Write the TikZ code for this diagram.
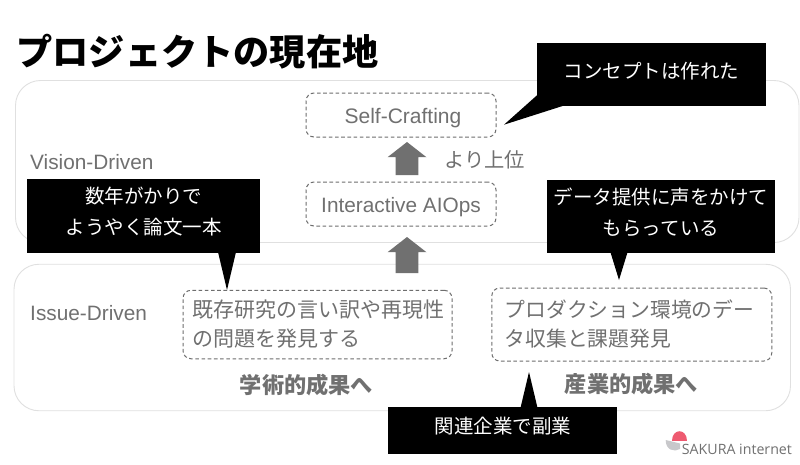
\documentclass[tikz,border=0pt]{standalone}
\usepackage{fontspec}
\setmainfont{Liberation Sans}
\newfontfamily\cjk{Noto Sans CJK JP}
\newfontfamily\logofont{Open Sans}
\usepackage{tikz}
\usetikzlibrary{arrows.meta, positioning, calc, shapes.arrows}
\usepackage{xcolor}
\definecolor{muted}{RGB}{112,112,112}
\definecolor{panelline}{RGB}{224,224,224}
\definecolor{dashline}{RGB}{110,110,110}
\definecolor{sakura}{RGB}{238,90,112}
\definecolor{logogray}{RGB}{200,200,203}
\newcommand{\calltext}[2][-2pt]{\raisebox{#1}[0pt][0pt]{\begin{tabular}{@{}c@{}}#2\end{tabular}}}
\tikzset{
  panel/.style={draw=panelline, line width=0.9pt, rounded corners=25pt, inner sep=0pt},
  goalbox/.style={draw=dashline, line width=1pt, dash pattern=on 3.6pt off 2.6pt, rounded corners=8pt, inner sep=0pt, text=muted},
  blackbox/.style={fill=black, text=white, inner sep=0pt, font=\cjk\fontsize{19.5}{31}\selectfont},
  upshape/.style={single arrow, fill=muted, rotate=90, anchor=tip, inner sep=10pt, minimum width=39pt, single arrow tip angle=104, single arrow head indent=0pt, outer sep=0pt}
}

\begin{document}
\begin{tikzpicture}[x=1pt, y=-1pt]
  \useasboundingbox (0,0) rectangle (800,464);
  \fill[white] (0,0) rectangle (800,464);
  \node[anchor=west, font=\cjk\bfseries\fontsize{36.2}{40}\selectfont] (title) at (13,52) {プロジェクトの現在地};
  % panels
  \node[panel, minimum width=783.5pt, minimum height=162pt] (vision) at (407.25,161.5) {};
  \node[panel, minimum width=776.5pt, minimum height=146.5pt] (issue) at (402.25,337.5) {};
  \node[anchor=west, text=muted, font=\fontsize{20.8}{24}\selectfont] (visionlabel) at (26.7,162.5) {Vision-Driven};
  \node[anchor=west, text=muted, font=\fontsize{20.8}{24}\selectfont] (issuelabel) at (26.7,313.5) {Issue-Driven};
  % goals
  \node[goalbox, minimum width=190pt, minimum height=44pt, text height=20.5pt, text depth=4.5pt, font=\fontsize{21}{25}\selectfont] (selfcraft) at (401,115) {\hspace*{4pt}Self-Crafting};
  \node[goalbox, minimum width=190pt, minimum height=44pt, text height=20.5pt, text depth=4.5pt, font=\fontsize{20.8}{25}\selectfont] (aiops) at (401,204) {Interactive AIOps};
  \node[goalbox, minimum width=269pt, minimum height=68.5pt, inner xsep=9pt, text width=251pt, align=left, font=\cjk\fontsize{21}{29}\selectfont] (research) at (317.5,324.5) {既存研究の言い訳や再現性\\の問題を発見する};
  \node[goalbox, minimum width=280pt, minimum height=73pt, inner xsep=13pt, text width=254pt, align=left, font=\cjk\fontsize{20.8}{29}\selectfont] (production) at (631.75,324.5) {プロダクション環境のデー\\タ収集と課題発見};
  \node[text=muted, font=\cjk\bfseries\fontsize{22.2}{24}\selectfont] (academic) at (306.5,385.5) {学術的成果へ};
  \node[text=muted, font=\cjk\bfseries\fontsize{22.2}{24}\selectfont] (industry) at (631.5,384.5) {産業的成果へ};
  % arrows
  \node[upshape, minimum height=33pt] (uptop) at (407,142) {};
  \node[upshape, minimum height=36pt] (uplow) at (407,237) {};
  \node[anchor=west, text=muted, font=\cjk\fontsize{20.3}{24}\selectfont] (higher) at (440.7,160) {より上位};
  % callouts
  \fill (537.3,95) -- (504,124.7) -- (565.7,105) -- cycle;
  \fill (218,252) -- (227,290) -- (236,252) -- cycle;
  \fill (610.7,253) -- (619,280) -- (627.3,253) -- cycle;
  \fill (520.7,407) -- (529,372) -- (537.3,407) -- cycle;
  \node[blackbox, minimum width=228.7pt, minimum height=63.3pt] (concept) at (651.6,74.4) {\calltext[-3pt]{コンセプトは作れた}};
  \node[blackbox, minimum width=233pt, minimum height=73.4pt] (paper) at (143.5,216) {\calltext{数年がかりで\\ようやく論文一本}};
  \node[blackbox, minimum width=228.6pt, minimum height=73pt] (data) at (661,216.8) {\calltext{データ提供に声をかけて\\もらっている}};
  \node[blackbox, minimum width=229pt, minimum height=47.3pt] (sidejob) at (502.8,430.4) {\calltext{関連企業で副業}};
  % logo
  \fill[sakura] (671.7,441) .. controls (671.7,427.5) and (686.7,427.5) .. (686.7,441) -- cycle;
  \fill[logogray] (665.7,440) -- (680,443.5) -- (680,449) .. controls (674,452.5) and (665.7,450) .. (665.7,440) -- cycle;
  \node[anchor=west, inner sep=0pt, text=muted, font=\logofont\fontsize{14.2}{16}\selectfont] (logo) at (681.7,449) {SAKURA internet};
\end{tikzpicture}
\end{document}
